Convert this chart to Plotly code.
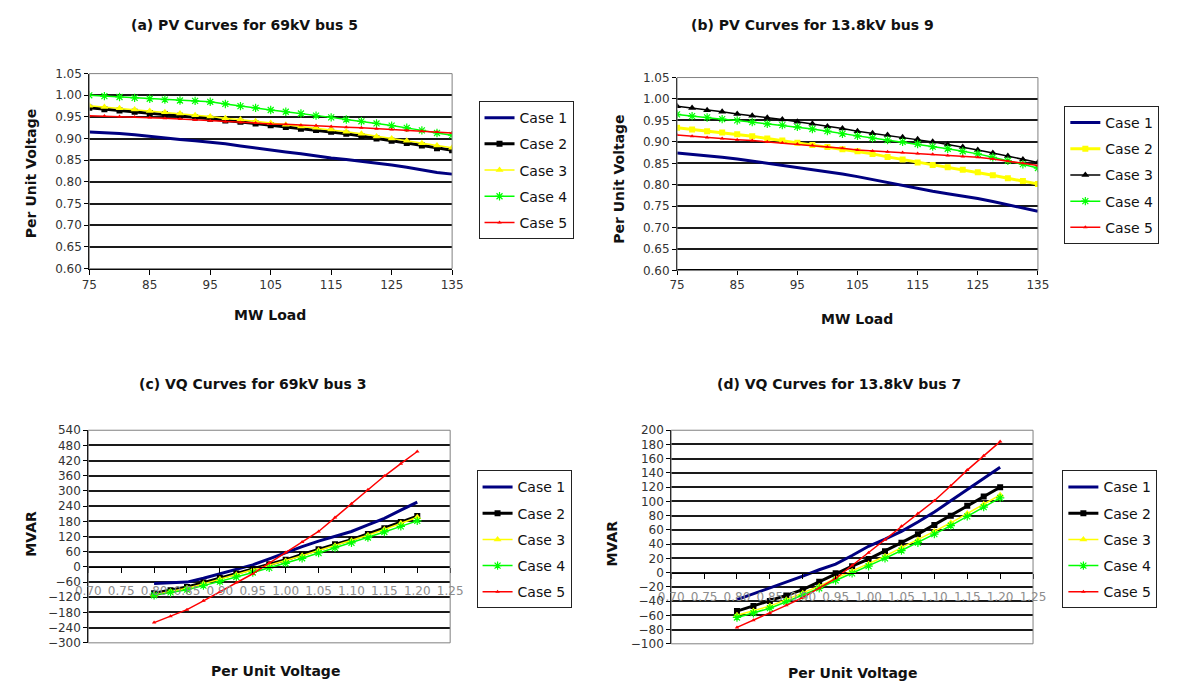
import plotly.graph_objects as go

W, H = 1181, 690

# ---------------- data ----------------
cases = ["Case 1", "Case 2", "Case 3", "Case 4", "Case 5"]

pv_load = [75, 77.5, 80, 82.5, 85, 87.5, 90, 92.5, 95, 97.5, 100, 102.5, 105,
           107.5, 110, 112.5, 115, 117.5, 120, 122.5, 125, 127.5, 130, 132.5, 135]

a_case1 = [0.915, 0.914, 0.912, 0.909, 0.905, 0.901, 0.898, 0.895, 0.892, 0.888, 0.883, 0.878, 0.874,
           0.869, 0.865, 0.860, 0.855, 0.852, 0.848, 0.843, 0.839, 0.834, 0.828, 0.822, 0.818]
a_case2 = [0.971, 0.968, 0.965, 0.962, 0.959, 0.956, 0.953, 0.949, 0.946, 0.942, 0.939, 0.935, 0.931,
           0.927, 0.923, 0.920, 0.916, 0.911, 0.906, 0.900, 0.895, 0.890, 0.884, 0.878, 0.873]
a_case3 = [0.976, 0.973, 0.970, 0.967, 0.964, 0.961, 0.958, 0.954, 0.951, 0.947, 0.944, 0.940, 0.936,
           0.932, 0.928, 0.925, 0.921, 0.916, 0.911, 0.905, 0.900, 0.895, 0.889, 0.884, 0.879]
a_case4 = [1.000, 0.998, 0.996, 0.994, 0.992, 0.990, 0.988, 0.987, 0.985, 0.980, 0.975, 0.971, 0.966,
           0.962, 0.958, 0.953, 0.949, 0.944, 0.940, 0.935, 0.930, 0.925, 0.919, 0.913, 0.908]
a_case5 = [0.953, 0.952, 0.951, 0.950, 0.949, 0.947, 0.945, 0.943, 0.941, 0.939, 0.937, 0.936, 0.934,
           0.933, 0.931, 0.930, 0.928, 0.926, 0.925, 0.923, 0.921, 0.919, 0.917, 0.915, 0.913]

b_case1 = [0.874, 0.871, 0.867, 0.864, 0.860, 0.855, 0.851, 0.846, 0.841, 0.836, 0.830, 0.825, 0.819,
           0.812, 0.805, 0.798, 0.791, 0.785, 0.779, 0.774, 0.768, 0.761, 0.753, 0.746, 0.738]
b_case2 = [0.933, 0.929, 0.925, 0.922, 0.918, 0.913, 0.908, 0.903, 0.898, 0.893, 0.888, 0.883, 0.878,
           0.872, 0.865, 0.859, 0.852, 0.846, 0.841, 0.835, 0.829, 0.822, 0.815, 0.809, 0.802]
b_case3 = [0.983, 0.979, 0.974, 0.970, 0.965, 0.961, 0.956, 0.952, 0.947, 0.942, 0.936, 0.931, 0.925,
           0.920, 0.916, 0.911, 0.906, 0.900, 0.894, 0.888, 0.881, 0.874, 0.867, 0.859, 0.852]
b_case4 = [0.964, 0.960, 0.957, 0.953, 0.950, 0.946, 0.942, 0.939, 0.935, 0.930, 0.925, 0.919, 0.914,
           0.909, 0.904, 0.900, 0.895, 0.889, 0.884, 0.878, 0.872, 0.864, 0.856, 0.848, 0.839]
b_case5 = [0.916, 0.913, 0.910, 0.908, 0.905, 0.903, 0.900, 0.898, 0.895, 0.892, 0.888, 0.885, 0.881,
           0.879, 0.877, 0.875, 0.873, 0.871, 0.868, 0.866, 0.864, 0.860, 0.855, 0.850, 0.845]

vq_volt = [0.800, 0.825, 0.850, 0.875, 0.900, 0.925, 0.950, 0.975, 1.000,
           1.025, 1.050, 1.075, 1.100, 1.125, 1.150, 1.175, 1.200]

c_case1 = [-66, -63, -60, -45, -27, -10, 8, 32, 57, 80, 102, 121, 140, 166, 192, 224, 256]
c_case2 = [-104, -92, -79, -62, -44, -26, -8, 10, 28, 49, 70, 89, 108, 130, 153, 177, 201]
c_case3 = [-110, -97, -84, -67, -49, -31, -13, 5, 23, 44, 65, 84, 103, 125, 148, 172, 196]
c_case4 = [-112, -101, -90, -74, -58, -40, -22, -4, 14, 34, 55, 75, 95, 116, 138, 160, 182]
c_case5 = [-220, -195, -169, -134, -98, -62, -27, 15, 57, 98, 140, 195, 250, 305, 359, 408, 456]

d_case1 = [-38, -30, -22, -14, -5, 4, 12, 24, 37, 47, 58, 71, 85, 101, 117, 132, 148]
d_case2 = [-54, -47, -40, -32, -24, -13, -1, 9, 19, 30, 42, 54, 67, 80, 94, 107, 120]
d_case3 = [-60, -54, -47, -38, -29, -19, -8, 2, 12, 23, 35, 46, 58, 70, 83, 96, 109]
d_case4 = [-63, -57, -50, -41, -32, -22, -11, -1, 9, 20, 31, 42, 54, 66, 79, 92, 105]
d_case5 = [-77, -67, -57, -46, -35, -22, -8, 10, 28, 46, 65, 83, 101, 122, 144, 164, 184]

titles = ["(a) PV Curves for 69kV bus 5", "(b) PV Curves for 13.8kV bus 9",
          "(c) VQ Curves for 69kV bus 3", "(d) VQ Curves for 13.8kV bus 7"]

# ---------------- styles ----------------
NAVY, BLACK, YELLOW, GREEN, RED = "#000080", "#000000", "#FFFF00", "#00FF00", "#FF0000"
FONT = "DejaVu Sans"

def style(idx, color):
    if idx == 0:
        return dict(mode="lines", line=dict(color=color, width=3))
    if idx == 1:
        return dict(mode="lines+markers", line=dict(color=color, width=3),
                    marker=dict(symbol="square", size=6, color=color))
    if idx == 2:
        return dict(mode="lines+markers", line=dict(color=color, width=1.5),
                    marker=dict(symbol="triangle-up", size=7, color=color))
    if idx == 3:
        return dict(mode="lines+markers", line=dict(color=color, width=1.5),
                    marker=dict(symbol="asterisk-open", size=7, color=color,
                                line=dict(color=color, width=1.2)))
    return dict(mode="lines+markers", line=dict(color=color, width=1.5),
                marker=dict(symbol="triangle-up", size=4, color=color))

panels = [
    dict(x=pv_load, ys=[a_case1, a_case2, a_case3, a_case4, a_case5],
         colors=[NAVY, BLACK, YELLOW, GREEN, RED], xa="x", ya="y", leg="legend"),
    dict(x=pv_load, ys=[b_case1, b_case2, b_case3, b_case4, b_case5],
         colors=[NAVY, YELLOW, BLACK, GREEN, RED], xa="x2", ya="y2", leg="legend2"),
    dict(x=vq_volt, ys=[c_case1, c_case2, c_case3, c_case4, c_case5],
         colors=[NAVY, BLACK, YELLOW, GREEN, RED], xa="x3", ya="y3", leg="legend3"),
    dict(x=vq_volt, ys=[d_case1, d_case2, d_case3, d_case4, d_case5],
         colors=[NAVY, BLACK, YELLOW, GREEN, RED], xa="x4", ya="y4", leg="legend4"),
]

fig = go.Figure()
for p_i, p in enumerate(panels):
    for i, (name, y, col) in enumerate(zip(cases, p["ys"], p["colors"])):
        fig.add_trace(go.Scatter(x=p["x"], y=y, name=name, xaxis=p["xa"], yaxis=p["ya"],
                                 legend=p["leg"], legendgroup=f"{p_i}-{i}",
                                 showlegend=True, **style(i, col)))

# ---------------- layout helpers ----------------
def dx(a, b):
    return [a / W, b / W]

def dy(top, bottom):
    return [1 - bottom / H, 1 - top / H]

tickfont = dict(family=FONT, size=12, color="#333333")
grid = dict(showgrid=True, gridcolor="#1a1a1a", gridwidth=1.5, zeroline=False)

dom = {
    "a": (dx(78, 449), dy(68, 267)),
    "b": (dx(679, 1048), dy(72, 269)),
    "c": (dx(77, 447), dy(432, 649)),
    "d": (dx(673, 1043), dy(432, 650)),
}

def xpv(d):
    return dict(domain=d, range=[75, 135], tickvals=[75, 85, 95, 105, 115, 125, 135],
                showgrid=False, zeroline=False, showline=True, linecolor="#000", linewidth=1,
                ticks="outside", ticklen=5, tickcolor="#000", tickfont=tickfont)

def ypv(d, anchor):
    return dict(domain=d, range=[0.60, 1.05], dtick=0.05, tick0=0.60, tickformat=".2f",
                anchor=anchor, showline=True, linecolor="#000", linewidth=1,
                ticks="outside", ticklen=4, tickcolor="#000", tickfont=tickfont, **grid)

def free_pos(ydom, yr):
    return ydom[0] + (0 - yr[0]) / (yr[1] - yr[0]) * (ydom[1] - ydom[0])

def xvq(d, ydom, yr):
    return dict(domain=d, range=[0.70, 1.25], dtick=0.05, tick0=0.70, tickformat=".2f",
                anchor="free", position=free_pos(ydom, yr),
                showgrid=False, zeroline=False, showline=True, linecolor="#000", linewidth=1,
                ticks="outside", ticklen=5, tickcolor="#000", ticklabelstandoff=8,
                tickfont=dict(family=FONT, size=12, color="#8c8c8c"))

def yvq(d, anchor, yr, dt):
    return dict(domain=d, range=yr, dtick=dt, tick0=yr[0], anchor=anchor,
                showline=True, linecolor="#000", linewidth=1,
                ticks="outside", ticklen=4, tickcolor="#000",
                tickfont=dict(family=FONT, size=12, color="#333333"), **grid)

yr_c = [-300, 540]
yr_d = [-100, 200]

def legend_at(x, y):
    return dict(x=x / W, y=1 - y / H, xanchor="left", yanchor="top",
                bgcolor="white", bordercolor="#222", borderwidth=1,
                font=dict(family=FONT, size=14, color="#111"),
                traceorder="grouped", tracegroupgap=5, itemwidth=30)

fig.update_layout(
    width=W, height=H, margin=dict(l=0, r=0, t=0, b=0),
    paper_bgcolor="white", plot_bgcolor="white",
    xaxis=xpv(dom["a"][0]), yaxis=ypv(dom["a"][1], "x"),
    xaxis2=xpv(dom["b"][0]), yaxis2=ypv(dom["b"][1], "x2"),
    xaxis3=xvq(dom["c"][0], dom["c"][1], yr_c), yaxis3=yvq(dom["c"][1], "x3", yr_c, 60),
    xaxis4=xvq(dom["d"][0], dom["d"][1], yr_d), yaxis4=yvq(dom["d"][1], "x4", yr_d, 20),
    legend=legend_at(476, 96),
    legend2=legend_at(1075, 101),
    legend3=legend_at(474, 473),
    legend4=legend_at(1073, 473),
    showlegend=True,
)

# plot-area borders
for xr, yr in [("x", "y"), ("x2", "y2"), ("x3", "y3"), ("x4", "y4")]:
    fig.add_shape(type="rect", xref=f"{xr} domain", yref=f"{yr} domain",
                  x0=0, x1=1, y0=0, y1=1, line=dict(color="#808080", width=1), layer="above")

# titles and axis titles
def ann(text, x, y, size=14, angle=0):
    fig.add_annotation(text=f"<b>{text}</b>", x=x / W, y=1 - y / H, xref="paper", yref="paper",
                       showarrow=False, textangle=angle, xanchor="center", yanchor="middle",
                       font=dict(family=FONT, size=size, color="#111"))

ann(titles[0], 237, 18)
ann(titles[1], 818, 18)
ann(titles[2], 245, 385)
ann(titles[3], 845, 385)
ann("MW Load", 263, 314)
ann("MW Load", 863, 318)
ann("Per Unit Voltage", 268, 678)
ann("Per Unit Voltage", 858, 680)
ann("Per Unit Voltage", 18, 170, angle=-90)
ann("Per Unit Voltage", 620, 176, angle=-90)
ann("MVAR", 18, 538, angle=-90)
ann("MVAR", 612, 548, angle=-90)

fig.write_html("out.html")
